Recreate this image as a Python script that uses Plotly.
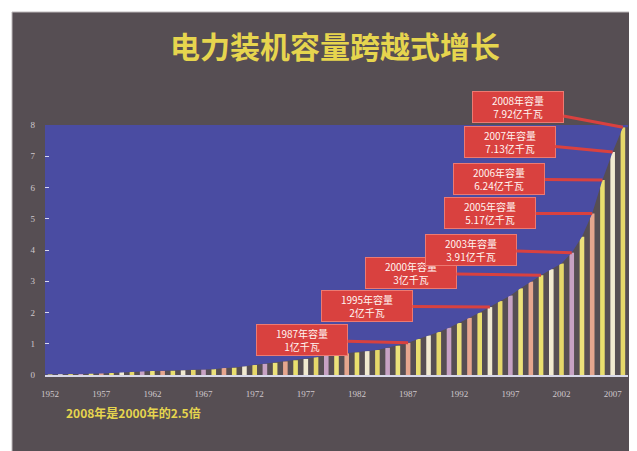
import plotly.graph_objects as go

# ---------------- data ----------------
years = list(range(1952, 2009))
capacity = [  # 亿千瓦
    0.0196, 0.0235, 0.0261, 0.0300, 0.0372, 0.0464, 0.0629, 0.0954, 0.1192, 0.1286,
    0.1304, 0.1356, 0.1392, 0.1508, 0.1676, 0.1792, 0.1866, 0.2235, 0.2377, 0.2800,
    0.3200, 0.3600, 0.3900, 0.4341, 0.4715, 0.5145, 0.5712, 0.6302, 0.6587, 0.6913,
    0.7236, 0.7644, 0.8012, 0.8705, 0.9382, 1.0290, 1.1550, 1.2664, 1.3789, 1.5147,
    1.6653, 1.8291, 1.9990, 2.1722, 2.3654, 2.5424, 2.7729, 2.9877, 3.1932, 3.3849,
    3.5657, 3.9141, 4.4239, 5.1718, 6.2370, 7.1329, 7.9253,
]
tick_years = [1952, 1957, 1962, 1967, 1972, 1977, 1982, 1987, 1992, 1997, 2002, 2007]
y_ticks = [0, 1, 2, 3, 4, 5, 6, 7, 8]

callout_years = [1987, 1995, 2000, 2003, 2005, 2006, 2007, 2008]
callout_texts = [
    "1987年容量<br>1亿千瓦",
    "1995年容量<br>2亿千瓦",
    "2000年容量<br>3亿千瓦",
    "2003年容量<br>3.91亿千瓦",
    "2005年容量<br>5.17亿千瓦",
    "2006年容量<br>6.24亿千瓦",
    "2007年容量<br>7.13亿千瓦",
    "2008年容量<br>7.92亿千瓦",
]
# pixel offsets of each callout box from its bar top (style)
callout_ax = [-106, -123, -130, -101, -102, -103, -103, -105]
callout_ay = [-3, -1, -2, -3, 0, -1, -10, -20]

title_text = "电力装机容量跨越式增长"
note_text = "2008年是2000年的2.5倍"

# ---------------- style ----------------
DARK = "#564e53"
BLUE = "#4a4ca2"
RED = "#d9413f"
YELLOW = "#e6d54e"
palette = ["#eadf6e", "#f1ead0", "#e6d86a", "#c7a2c4", "#ece27a", "#e6a68e"]
bar_colors = [palette[i % len(palette)] for i in range(len(years))]

x_min, x_max = years[0] - 0.5, years[-1] + 0.5
y_max = y_ticks[-1]

fig = go.Figure()

# blue area above the bar envelope
fill_x = [x_min] + years + [x_max]
fill_lo = [capacity[0]] + capacity + [capacity[-1]]
fig.add_trace(go.Scatter(x=fill_x, y=fill_lo, mode="lines", line=dict(width=0),
                         hoverinfo="skip", showlegend=False))
fig.add_trace(go.Scatter(x=fill_x, y=[y_max] * len(fill_x), mode="lines",
                         line=dict(width=0), fill="tonexty", fillcolor=BLUE,
                         hoverinfo="skip", showlegend=False))

fig.add_trace(go.Bar(x=years, y=capacity, marker=dict(color=bar_colors, line=dict(width=0)),
                     showlegend=False))

# page body has an 8px margin: figure occupies window px 8..637 / 8..451
OFF = 8
W, H = 637 - OFF, 451 - OFF
L, R, T, B = 45 - OFF, 9, 125 - OFF, 76
pw, ph = W - L - R, H - T - B

def px_x(p):  # window pixel -> paper
    return (p - OFF - L) / pw

def px_y(p):
    return (H - B - (p - OFF)) / ph

fig.add_shape(type="rect", xref="paper", yref="paper",
              x0=px_x(12), x1=px_x(640), y0=px_y(455), y1=px_y(12),
              fillcolor=DARK, line=dict(color="#bdb8bb", width=1), layer="below")

annotations = [
    dict(text=title_text, xref="paper", yref="paper", x=px_x(335), y=px_y(45),
         xanchor="center", yanchor="middle", showarrow=False,
         font=dict(family="Noto Sans CJK SC", size=30, color=YELLOW, weight="bold")),
    dict(text=note_text, xref="paper", yref="paper", x=px_x(64), y=px_y(412),
         xanchor="left", yanchor="middle", showarrow=False,
         font=dict(family="Noto Sans CJK SC", size=12, color=YELLOW, weight="bold")),
]
for yr, txt, ax, ay in zip(callout_years, callout_texts, callout_ax, callout_ay):
    v = capacity[years.index(yr)]
    annotations.append(dict(
        x=yr, y=v, xref="x", yref="y", text=txt, showarrow=True,
        ax=ax, ay=ay, axref="pixel", ayref="pixel",
        arrowhead=0, arrowwidth=3, arrowcolor=RED, standoff=0,
        bgcolor=RED, bordercolor="#ec7a72", borderwidth=1, borderpad=3,
        width=84, height=24, align="center",
        font=dict(family="Noto Sans CJK SC", size=10, color="#fff4f0"),
    ))

fig.update_layout(
    width=W, height=H,
    margin=dict(l=L, r=R, t=T, b=B),
    paper_bgcolor="white",
    plot_bgcolor=DARK,
    bargap=0.55,
    showlegend=False,
    annotations=annotations,
    xaxis=dict(range=[x_min, x_max], tickvals=tick_years, ticktext=[str(t) for t in tick_years],
               showgrid=False, zeroline=False, showline=True, linecolor="#d8d8e8", linewidth=1.5,
               ticks="outside", ticklen=9, tickcolor="rgba(0,0,0,0)",
               tickfont=dict(family="Liberation Serif", size=9, color="#cfc8cc")),
    yaxis=dict(range=[0, y_max], tickvals=y_ticks, showgrid=False, zeroline=False,
               showline=False, ticks="inside", ticklen=4, tickcolor="#d8d8ee",
               ticklabelstandoff=9,
               tickfont=dict(family="Liberation Serif", size=9, color="#cfc8cc")),
)

fig.write_html("out.html")
